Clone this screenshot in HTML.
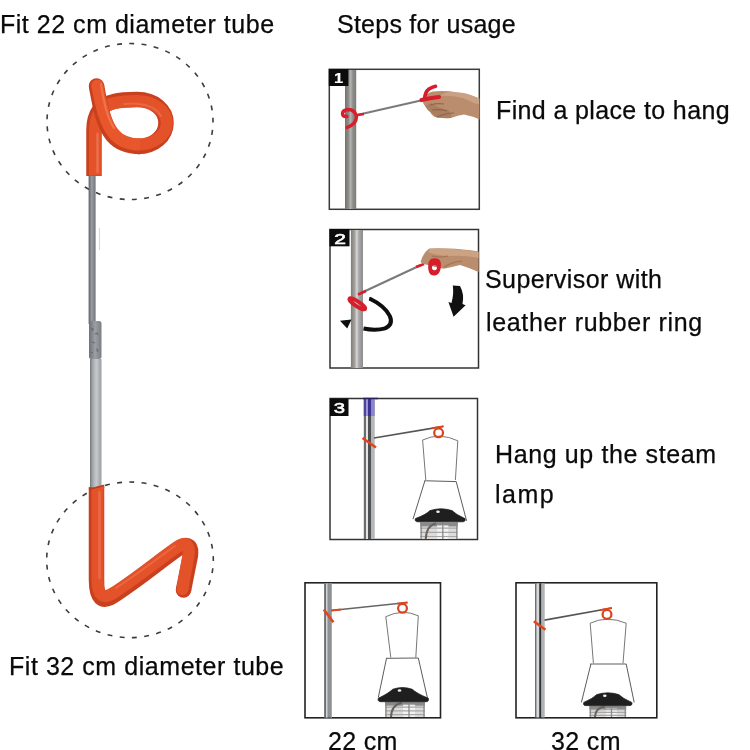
<!DOCTYPE html>
<html><head><meta charset="utf-8">
<style>
html,body{margin:0;padding:0;background:#fff;}
body{width:750px;height:750px;position:relative;overflow:hidden;}
.t{position:absolute;will-change:transform;font-family:"Liberation Sans",sans-serif;font-size:25px;line-height:25px;color:#0a0a0a;white-space:nowrap;-webkit-text-stroke:0.25px #0a0a0a;}
svg{position:absolute;left:0;top:0;}
.n{position:absolute;will-change:transform;color:#fff;font-family:"Liberation Sans",sans-serif;font-weight:normal;font-size:15px;text-align:center;-webkit-text-stroke:0.6px #fff;}
</style></head><body>
<svg width="750" height="750" viewBox="0 0 750 750">
  <defs>
    <linearGradient id="poleA" x1="0" x2="1" y1="0" y2="0">
      <stop offset="0" stop-color="#5e6266"/>
      <stop offset="0.45" stop-color="#9a9ea2"/>
      <stop offset="1" stop-color="#6f7377"/>
    </linearGradient>
    <linearGradient id="poleB" x1="0" x2="1" y1="0" y2="0">
      <stop offset="0" stop-color="#74787c"/>
      <stop offset="0.25" stop-color="#a6aaae"/>
      <stop offset="0.55" stop-color="#c6cacd"/>
      <stop offset="1" stop-color="#9a9ea2"/>
    </linearGradient>
    <linearGradient id="conn" x1="0" x2="1" y1="0" y2="0">
      <stop offset="0" stop-color="#6e7276"/>
      <stop offset="0.5" stop-color="#9ca0a4"/>
      <stop offset="1" stop-color="#7a7e82"/>
    </linearGradient>
    <linearGradient id="stepPole1" x1="0" x2="1" y1="0" y2="0">
      <stop offset="0" stop-color="#74726c"/>
      <stop offset="0.3" stop-color="#8e8c86"/>
      <stop offset="0.5" stop-color="#b4b4b4"/>
      <stop offset="0.7" stop-color="#8e8e8c"/>
      <stop offset="1" stop-color="#7a7a76"/>
    </linearGradient>
    <linearGradient id="stepPole2" x1="0" x2="1" y1="0" y2="0">
      <stop offset="0" stop-color="#7e7c76"/>
      <stop offset="0.3" stop-color="#a2a09a"/>
      <stop offset="0.5" stop-color="#d8d8d8"/>
      <stop offset="0.65" stop-color="#a8a8a8"/>
      <stop offset="1" stop-color="#8c8c8c"/>
    </linearGradient>
    <linearGradient id="stepPole" x1="0" x2="1" y1="0" y2="0">
      <stop offset="0" stop-color="#6b6e70"/>
      <stop offset="0.4" stop-color="#c9cbcc"/>
      <stop offset="0.75" stop-color="#9a9c9e"/>
      <stop offset="1" stop-color="#6e7072"/>
    </linearGradient>
  </defs>

  <!-- ===== Left big hook ===== -->
  <ellipse cx="130" cy="121.5" rx="83" ry="78" pathLength="41" fill="none" stroke="#3c3c3c" stroke-width="1.6" stroke-dasharray="0.4 0.6" stroke-dashoffset="0.307"/>
  <ellipse cx="130" cy="559.8" rx="83.3" ry="77.8" pathLength="41" fill="none" stroke="#3c3c3c" stroke-width="1.6" stroke-dasharray="0.4 0.6" stroke-dashoffset="0.307"/>

  <!-- upper thin pole -->
  <rect x="88.6" y="172" width="7" height="152" fill="url(#poleA)"/>
  <line x1="99.4" y1="228" x2="99.4" y2="250" stroke="#c8c8c8" stroke-width="0.8"/>
  <!-- connector -->
  <rect x="89" y="321" width="12.5" height="38" rx="2.5" fill="url(#conn)"/>
  <path d="M91 328 l2 1 l-1 2 M95 334 l2 -1 l1 2 M92 342 l3 1 M96 349 l2 1 l-1 2 M91 353 l2 -1" stroke="#5c6064" stroke-width="1.2" fill="none" opacity="0.7"/>
  <!-- lower pole -->
  <rect x="90" y="359" width="11.5" height="128" fill="url(#poleB)"/>
  <!-- top orange hook -->
  <g fill="none" stroke-linecap="round" stroke-linejoin="round">
    <path d="M94 176 L94 130 C94 114 101 104 114 101.5 C120 100 128 99.5 137 99.5 C154 99.5 166 110 166 123 C166 136 154 146.5 138 146.5" stroke="#c9401f" stroke-width="15.5" stroke-linecap="butt"/>
    <path d="M95 175.5 L95 130 C95 115 102 105.5 114.5 103 C120.5 101.5 128 101 137 101 C153 101 166.8 110.5 166.8 123 C166.8 135 154 144.5 138 144.5" stroke="#e4522a" stroke-width="12" stroke-linecap="butt"/>
    <circle cx="96.5" cy="86" r="7.75" fill="#c9401f"/>
    <path d="M96.5 86 C100 105 103 124 113 136 C120 144 129 146.5 140 146.5" stroke="#c9401f" stroke-width="15.5" stroke-linecap="butt"/>
    <circle cx="97.3" cy="85.6" r="6" fill="#e8562c"/>
    <path d="M97.3 85.6 C101 104.5 104.5 123 114.5 134.5 C121 142 129.5 144.5 140 144.5" stroke="#e8562c" stroke-width="12" stroke-linecap="butt"/>
    <path d="M97.5 172 L97.5 134" stroke="#f4876a" stroke-width="2.5" opacity="0.55"/>
    <path d="M101 84 C103.5 101 107 118 114 128" stroke="#f6906c" stroke-width="2.2" opacity="0.5"/>
    <path d="M124 104 C140 102 156 106 161 116" stroke="#f4876a" stroke-width="2" opacity="0.4"/>
  </g>
  <!-- bottom orange hook -->
  <g fill="none" stroke-linejoin="round">
    <path d="M96.5 487 L96.5 580 C96.5 598 102 603 113 596 C135 582 158 563 177 549.5 C188 541.5 193 546 189.5 560 L183.5 590" stroke="#c9401f" stroke-width="15.5" stroke-linecap="butt"/>
    <path d="M88.75 488.5 L104.25 484.5 L104.25 488 L88.75 488 Z" fill="#c9401f"/>
    <circle cx="183.5" cy="590" r="7.75" fill="#c9401f"/>
    <path d="M97.5 487 L97.5 579 C97.5 595 102.5 599.5 112.5 593.5 C134 580 157 561 176.5 547.5 C186.5 540.5 191 545 187.8 559 L182.5 589" stroke="#e4522a" stroke-width="12" stroke-linecap="butt"/>
    <path d="M91.5 488.5 L103.5 485.5 L103.5 489 L91.5 489 Z" fill="#e4522a"/>
    <circle cx="182.5" cy="589" r="6" fill="#e4522a"/>
    <path d="M99.5 492 L99.5 578" stroke="#f4876a" stroke-width="2.5" opacity="0.45" stroke-linecap="round"/>
    <path d="M116 588 C135 576 155 560 175 546" stroke="#f4876a" stroke-width="2" opacity="0.4" stroke-linecap="round"/>
    <path d="M89 489.5 L103 486" stroke="#8a3010" stroke-width="1.2" opacity="0.6"/>
  </g>

  <!-- ===== Step 1 ===== -->
  <rect x="329.3" y="69.3" width="150" height="140" fill="#fff" stroke="#3a3a3a" stroke-width="1.5"/>
  <rect x="345" y="70" width="11.2" height="139" fill="url(#stepPole1)"/>
  <rect x="328.8" y="69" width="19.6" height="17" fill="#0c0c0c"/>
  <!-- rod -->
  <line x1="356" y1="115.3" x2="423" y2="100" stroke="#7a7a7a" stroke-width="2"/>
  <line x1="355.7" y1="115.3" x2="364" y2="114" stroke="#d8202c" stroke-width="2.6"/>
  <!-- red hook on pole -->
  <path d="M347 127.5 Q356.5 124 356.5 116.5 Q355 109.5 348 109.5 Q342.5 110 342.5 114 Q343 117 347 116.5" fill="none" stroke="#d61f2b" stroke-width="3.4" stroke-linecap="round"/>
  <!-- hand -->
  <path d="M479.5 98.6 Q468 93 458 92.4 Q446 90.5 433 91.4 Q426 93 423.5 98 Q421.5 102 425 106 Q427 110 430 112 Q433 117 437 117.5 Q445 118.5 451 118 Q458 115 464 114.5 Q472 116 479.5 119.5 Z" fill="#b98d6d"/>
  <path d="M425 106 Q431 113 437 117.5 Q446 118.5 451 118 Q452 113 448 110 Q438 108 431 103 Z" fill="#9a6c50" opacity="0.45"/>
  <path d="M430 105 Q437 103 444 104 M432 110 Q440 109 447 111 M437 117 Q446 113 454 113" stroke="#8a5e44" stroke-width="1.1" fill="none" opacity="0.8"/>
  <path d="M440 96 Q455 95 468 100 Q474 104 479 104 L479 98.6 Q468 93 458 92.4 Q446 90.5 440 96 Z" fill="#d2aa8e" opacity="0.7"/>
  <!-- red handle -->
  <path d="M424.5 99 Q425 92 429 89 Q432 87 435.5 86.3" fill="none" stroke="#d61f2b" stroke-width="3.6" stroke-linecap="round"/>
  <path d="M421.5 100 Q430 98 439 97" fill="none" stroke="#d61f2b" stroke-width="4.2" stroke-linecap="round"/>

  <!-- ===== Step 2 ===== -->
  <rect x="330" y="229.5" width="148.5" height="138.5" fill="#fff" stroke="#333" stroke-width="1.5"/>
  <rect x="350.9" y="230" width="12.1" height="138" fill="url(#stepPole2)"/>
  <rect x="329.5" y="229" width="20" height="17.3" fill="#0c0c0c"/>
  <line x1="361" y1="293" x2="421" y2="265" stroke="#7a7a7a" stroke-width="2"/>
  <line x1="358" y1="294.5" x2="366" y2="291" stroke="#d61f2b" stroke-width="2.5"/>
  <line x1="416" y1="267" x2="424" y2="264" stroke="#d61f2b" stroke-width="2.5"/>
  <!-- hand -->
  <path d="M478.6 251.5 Q462 249 448.4 248.6 Q436 248 429.2 248.6 Q423 253 420.6 262 Q424 265 429.2 265 Q436 268 443.6 268.8 Q452 267 460 265 Q470 268 478.6 272 Z" fill="#b98d6d"/>
  <path d="M430 249 Q440 248 452 249 Q466 250 478.6 252 L478.6 258 Q464 255 450 256 Q438 256 428 252 Z" fill="#cfa988" opacity="0.8"/>
  <path d="M432 256 Q440 258 448 256 M444 267 Q452 262 462 261" stroke="#95684c" stroke-width="1.1" fill="none" opacity="0.7"/>
  <!-- red handle -->
  <path d="M434.5 258.2 C441 258.2 441.5 263 440.7 268 C440 273 437.5 275.5 434 275.5 C430 275.5 428.2 272 428.2 267 C428.2 261 430 258.2 434.5 258.2 Z M434.5 265 a2.6 2.6 0 1 0 0.01 0 Z" fill="#d61f2b" fill-rule="evenodd"/>
  <!-- red ring on pole -->
  <ellipse cx="357.3" cy="303.8" rx="9.4" ry="2.4" transform="rotate(33 357.3 303.8)" fill="none" stroke="#d61f2b" stroke-width="3.8"/>
  <!-- black rotate arrow -->
  <path d="M369.5 298.5 Q385 306 389.8 316 Q393.5 324.5 385 328.3 Q376 331 363.5 328.5" fill="none" stroke="#0e0e0e" stroke-width="4"/>
  <path d="M369.5 297 L371.5 298 L369 301 Z" fill="#0e0e0e"/>
  <path d="M340 320.8 L351.5 319.6 L347.2 328.6 Z" fill="#0e0e0e"/>
  <!-- down arrow -->
  <path d="M452.8 285.6 L460 286 Q464.5 294 462.5 304 L465.6 305.2 L453.6 316.8 L448.4 302 L451.5 303 Q454 294 452.8 285.6 Z" fill="#111"/>

  <!-- ===== Step 3 ===== -->
  <rect x="330" y="398.5" width="147.5" height="141" fill="#fff" stroke="#333" stroke-width="1.5"/>
  <rect x="363.8" y="399" width="2.2" height="140" fill="#6a6c6e"/>
  <rect x="366" y="399" width="2" height="140" fill="#e4e4e4"/>
  <rect x="368" y="399" width="3" height="140" fill="#4e5052"/>
  <rect x="371" y="399" width="3.7" height="140" fill="#b4b6b8"/>
  <rect x="363.8" y="399" width="2.2" height="17" fill="#4e4490"/>
  <rect x="366" y="399" width="2" height="17" fill="#9c94d8"/>
  <rect x="368" y="399" width="3" height="17" fill="#3c3290"/>
  <rect x="371" y="399" width="3.7" height="17" fill="#8c84cc"/>
  <line x1="363" y1="398.5" x2="378" y2="398.5" stroke="#2a2060" stroke-width="1.5"/>
  <rect x="330" y="398.5" width="18.5" height="17.5" fill="#0c0c0c"/>
  <line x1="374" y1="438" x2="443.4" y2="426.4" stroke="#555" stroke-width="1.7"/>
  <line x1="432" y1="428.2" x2="443.4" y2="426.4" stroke="#e0461e" stroke-width="1.8"/>
  <line x1="362.5" y1="438" x2="376" y2="447.5" stroke="#e0461e" stroke-width="2.6"/>
  <path d="M425.8 480 L422.6 440 Q439.4 432 457.8 440.8 L455.4 480" fill="none" stroke="#777" stroke-width="1"/>
  <path d="M413 519.2 L424.9 480.8 Q423.4 480.8 426.4 480.8 L456.2 481.6 L466.6 520.8" fill="none" stroke="#5c5c5c" stroke-width="1"/>
  <rect x="420.2" y="522.4" width="37.6" height="16.6" fill="#dcdcdc"/>
  <rect x="420.2" y="522.4" width="37.6" height="4.0" fill="#8a8a8a"/>
  <rect x="437.1" y="525.4" width="11.3" height="13.6" fill="#f2f2f2"/>
  <path d="M420.2 528.2 L457.8 528.2 M420.2 532.4 L457.8 532.4 M420.2 536.5 L457.8 536.5" stroke="#a8a8a8" stroke-width="1.2" fill="none"/>
  <path d="M425.8 539.0 Q426.2 525.7 436.0 523.4" stroke="#6a625c" stroke-width="2" fill="none"/>
  <path d="M442.8 522.4 L442.8 539.0 M456.8 522.4 L456.8 539.0 M421.2 522.4 L421.2 539.0" stroke="#8a8a8a" stroke-width="1.3" fill="none"/>
  <path d="M415.4 518.6 Q426.0 514.6 430.0 510.6 Q441.0 507.1 452.0 510.6 Q456.0 514.6 465.0 518.6 Q466.0 521.8 462.0 521.8 L418.0 521.8 Q414.4 521.8 415.4 518.6 Z" fill="#1f1f1f" stroke="#1f1f1f" stroke-width="0.8" stroke-linejoin="round"/>
  <ellipse cx="438.0" cy="511.8" rx="1.8" ry="1.2" fill="#f0f0f0"/>
  <circle cx="438.6" cy="432.8" r="4.4" fill="none" stroke="#d9441e" stroke-width="2.2"/>

  <!-- ===== Box 4 (22 cm) ===== -->
  <rect x="305" y="582.8" width="135.5" height="135" fill="#fff" stroke="#222" stroke-width="1.6"/>
  <rect x="324.3" y="583.5" width="7.7" height="134" fill="#8e9194"/>
  <rect x="324.3" y="583.5" width="1.5" height="134" fill="#66696b"/>
  <rect x="326" y="583.5" width="1.5" height="134" fill="#d0d2d4"/>
  <rect x="331" y="583.5" width="1" height="134" fill="#a8aaac"/>
  <line x1="331.3" y1="610.5" x2="407.5" y2="602.5" stroke="#666" stroke-width="1.7"/>
  <line x1="331.3" y1="610.5" x2="341" y2="609.5" stroke="#e0461e" stroke-width="1.8"/>
  <line x1="397" y1="603.6" x2="407.5" y2="602.5" stroke="#e0461e" stroke-width="1.8"/>
  <line x1="323.8" y1="609.5" x2="333.4" y2="622.3" stroke="#e0461e" stroke-width="2.6"/>
  <path d="M390.8 657.5 L385.8 616.7 Q402.5 608.5 418.3 615.8 L415.8 657.5" fill="none" stroke="#777" stroke-width="1"/>
  <path d="M378.3 697.5 L386.5 658.3 Q385 658.3 388 658.3 L418.3 658 L427.5 698.3" fill="none" stroke="#5c5c5c" stroke-width="1"/>
  <rect x="385.0" y="701.7" width="40.0" height="15.3" fill="#dcdcdc"/>
  <rect x="385.0" y="701.7" width="40.0" height="4.0" fill="#8a8a8a"/>
  <rect x="403.0" y="704.7" width="12.0" height="12.3" fill="#f2f2f2"/>
  <path d="M385.0 707.1 L425.0 707.1 M385.0 710.9 L425.0 710.9 M385.0 714.7 L425.0 714.7" stroke="#a8a8a8" stroke-width="1.2" fill="none"/>
  <path d="M391.0 717.0 Q391.4 704.8 401.8 702.7" stroke="#6a625c" stroke-width="2" fill="none"/>
  <path d="M409.0 701.7 L409.0 717.0 M424.0 701.7 L424.0 717.0 M386.0 701.7 L386.0 717.0" stroke="#8a8a8a" stroke-width="1.3" fill="none"/>
  <path d="M378.3 698.3 Q388.7 693.3 392.7 689.3 Q402.5 685.8 412.3 689.3 Q416.3 693.3 428.3 698.3 Q429.3 701.7 426.0 701.7 L381.0 701.7 Q377.3 701.7 378.3 698.3 Z" fill="#1f1f1f" stroke="#1f1f1f" stroke-width="0.8" stroke-linejoin="round"/>
  <ellipse cx="399.5" cy="690.5" rx="1.8" ry="1.2" fill="#f0f0f0"/>
  <circle cx="402.5" cy="608.3" r="4.4" fill="none" stroke="#d9441e" stroke-width="2.2"/>

  <!-- ===== Box 5 (32 cm) ===== -->
  <rect x="516" y="582.8" width="140.8" height="135" fill="#fff" stroke="#222" stroke-width="1.6"/>
  <rect x="535" y="583.5" width="1.7" height="134" fill="#6e7072"/>
  <rect x="536.7" y="583.5" width="2.5" height="134" fill="#d6d8da"/>
  <rect x="539.2" y="583.5" width="2.3" height="134" fill="#2e3032"/>
  <rect x="541.5" y="583.5" width="3.2" height="134" fill="#b0b2b4"/>
  <line x1="544.5" y1="620.1" x2="611.8" y2="608" stroke="#555" stroke-width="1.7"/>
  <line x1="600" y1="610.1" x2="611.8" y2="608" stroke="#e0461e" stroke-width="1.8"/>
  <line x1="533.8" y1="621.2" x2="545.5" y2="629.7" stroke="#e0461e" stroke-width="2.6"/>
  <path d="M593.4 663.2 L590.2 623.2 Q607 615.2 626.2 623.2 L623 663.2" fill="none" stroke="#777" stroke-width="1"/>
  <path d="M581.4 702.4 L590.9 664 Q589.4 664 592.4 664 L626.2 664 L634.2 702.4" fill="none" stroke="#5c5c5c" stroke-width="1"/>
  <rect x="589.4" y="705.6" width="36.8" height="11.4" fill="#dcdcdc"/>
  <rect x="589.4" y="705.6" width="36.8" height="3.4" fill="#8a8a8a"/>
  <rect x="606.0" y="708.6" width="11.0" height="8.4" fill="#f2f2f2"/>
  <path d="M589.4 709.6 L626.2 709.6 M589.4 712.4 L626.2 712.4 M589.4 715.3 L626.2 715.3" stroke="#a8a8a8" stroke-width="1.2" fill="none"/>
  <path d="M594.9 717.0 Q595.3 707.9 604.9 706.6" stroke="#6a625c" stroke-width="2" fill="none"/>
  <path d="M611.5 705.6 L611.5 717.0 M625.2 705.6 L625.2 717.0 M590.4 705.6 L590.4 717.0" stroke="#8a8a8a" stroke-width="1.3" fill="none"/>
  <path d="M583.8 702.4 Q592.8 698.6 596.8 694.6 Q607.8 691.1 618.8 694.6 Q622.8 698.6 631.8 702.4 Q632.8 705.6 629.0 705.6 L586.0 705.6 Q582.8 705.6 583.8 702.4 Z" fill="#1f1f1f" stroke="#1f1f1f" stroke-width="0.8" stroke-linejoin="round"/>
  <ellipse cx="604.8" cy="695.8000000000001" rx="1.8" ry="1.2" fill="#f0f0f0"/>
  <circle cx="607" cy="614.4" r="4.4" fill="none" stroke="#d9441e" stroke-width="2.2"/>
</svg>

<div class="t" id="t1" style="left:0px;top:12px;letter-spacing:0.52px">Fit 22 cm diameter tube</div>
<div class="t" id="t2" style="left:336.8px;top:12px;letter-spacing:0.25px">Steps for usage</div>
<div class="t" id="t3" style="left:495.5px;top:98px;letter-spacing:0.37px">Find a place to hang</div>
<div class="t" id="t4" style="left:485px;top:267px;letter-spacing:0.43px">Supervisor with</div>
<div class="t" id="t5" style="left:486px;top:310px;letter-spacing:0.66px">leather rubber ring</div>
<div class="t" id="t6" style="left:494.6px;top:442px;letter-spacing:0.62px">Hang up the steam</div>
<div class="t" id="t7" style="left:494.6px;top:482px;letter-spacing:1.47px">lamp</div>
<div class="t" id="t8" style="left:9.2px;top:654px;letter-spacing:0.55px">Fit 32 cm diameter tube</div>
<div class="t" id="t9" style="left:328px;top:729px;letter-spacing:0.3px">22 cm</div>
<div class="t" id="t10" style="left:550.5px;top:729px;letter-spacing:0.35px">32 cm</div>

<!-- step number glyphs -->
<div class="n" style="left:329px;top:69px;width:19px;height:17px;line-height:17px;font-weight:bold;-webkit-text-stroke:0.2px #fff;transform:scaleX(1.1)">1</div>
<div class="n" style="left:330px;top:229.5px;width:20px;height:17px;line-height:17px;transform:scaleX(1.4)">2</div>
<div class="n" style="left:329.5px;top:398.8px;width:19px;height:17.5px;line-height:17.5px;transform:scaleX(1.35)">3</div>
</body></html>
